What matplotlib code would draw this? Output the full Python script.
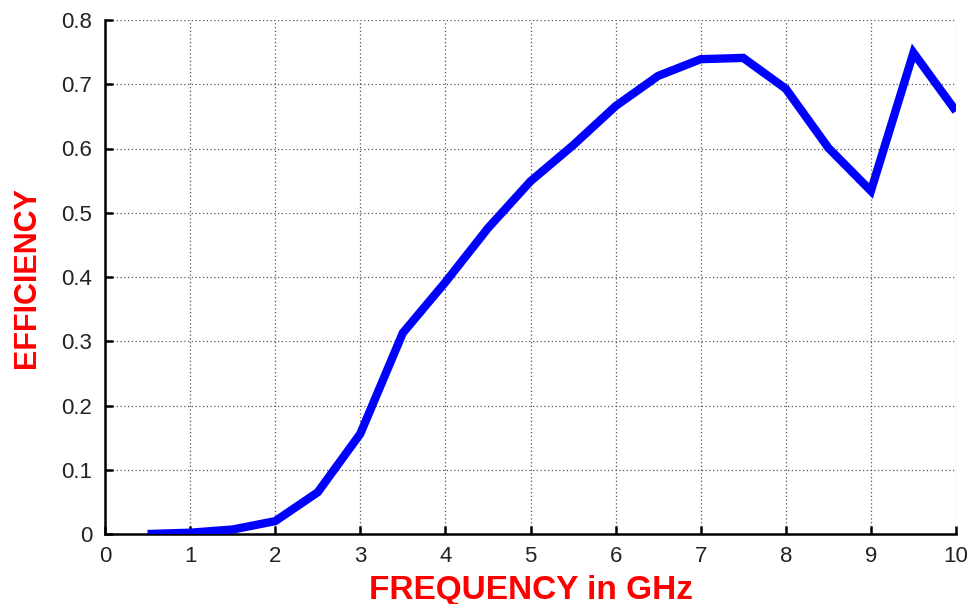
import matplotlib
matplotlib.use('Agg')
import matplotlib.pyplot as plt

# frequency (GHz) and efficiency
freq = [0.5, 1.0, 1.5, 2.0, 2.5, 3.0, 3.5, 4.0, 4.5, 5.0,
        5.5, 6.0, 6.5, 7.0, 7.5, 8.0, 8.5, 9.0, 9.5, 10.0]
efficiency = [0.0, 0.002, 0.007, 0.020, 0.065, 0.156, 0.313, 0.392, 0.476, 0.549,
              0.605, 0.666, 0.713, 0.739, 0.741, 0.693, 0.601, 0.534, 0.749, 0.658]

plt.rcParams['font.family'] = ['Liberation Sans', 'DejaVu Sans']

fig = plt.figure(figsize=(9.72, 6.04), dpi=100)
ax = fig.add_axes([105 / 972, 70 / 604, 851 / 972, 514 / 604])

ax.plot(freq, efficiency, color='#0000ff', linewidth=6, solid_joinstyle='miter',
        solid_capstyle='butt', zorder=3)

ax.set_xlim(0, 10)
ax.set_ylim(0, 0.8)
ax.set_xticks(range(0, 11))
ax.set_yticks([0, 0.1, 0.2, 0.3, 0.4, 0.5, 0.6, 0.7, 0.8])
ax.set_yticklabels(['0', '0.1', '0.2', '0.3', '0.4', '0.5', '0.6', '0.7', '0.8'])

ax.grid(True, linestyle=(0, (1, 2)), color='#555555', linewidth=0.9)
ax.spines['top'].set_visible(False)
ax.spines['right'].set_visible(False)
ax.spines['left'].set_linewidth(1.8)
ax.spines['bottom'].set_linewidth(1.8)
ax.tick_params(direction='in', length=6, width=1.8, labelsize=16, labelcolor='#222222', pad=9)

ax.set_xlabel('FREQUENCY in GHz', color='red', fontsize=24, fontweight='bold')
ax.set_ylabel('EFFICIENCY', color='red', fontsize=22, fontweight='bold')
ax.xaxis.set_label_coords(0.5, -56 / 514, transform=ax.transAxes)
ax.yaxis.set_label_coords(-78 / 851, 0.5, transform=ax.transAxes)
ax.xaxis.label.set_va('center')
ax.yaxis.label.set_va('center')

fig.savefig('out.png', dpi=100)
